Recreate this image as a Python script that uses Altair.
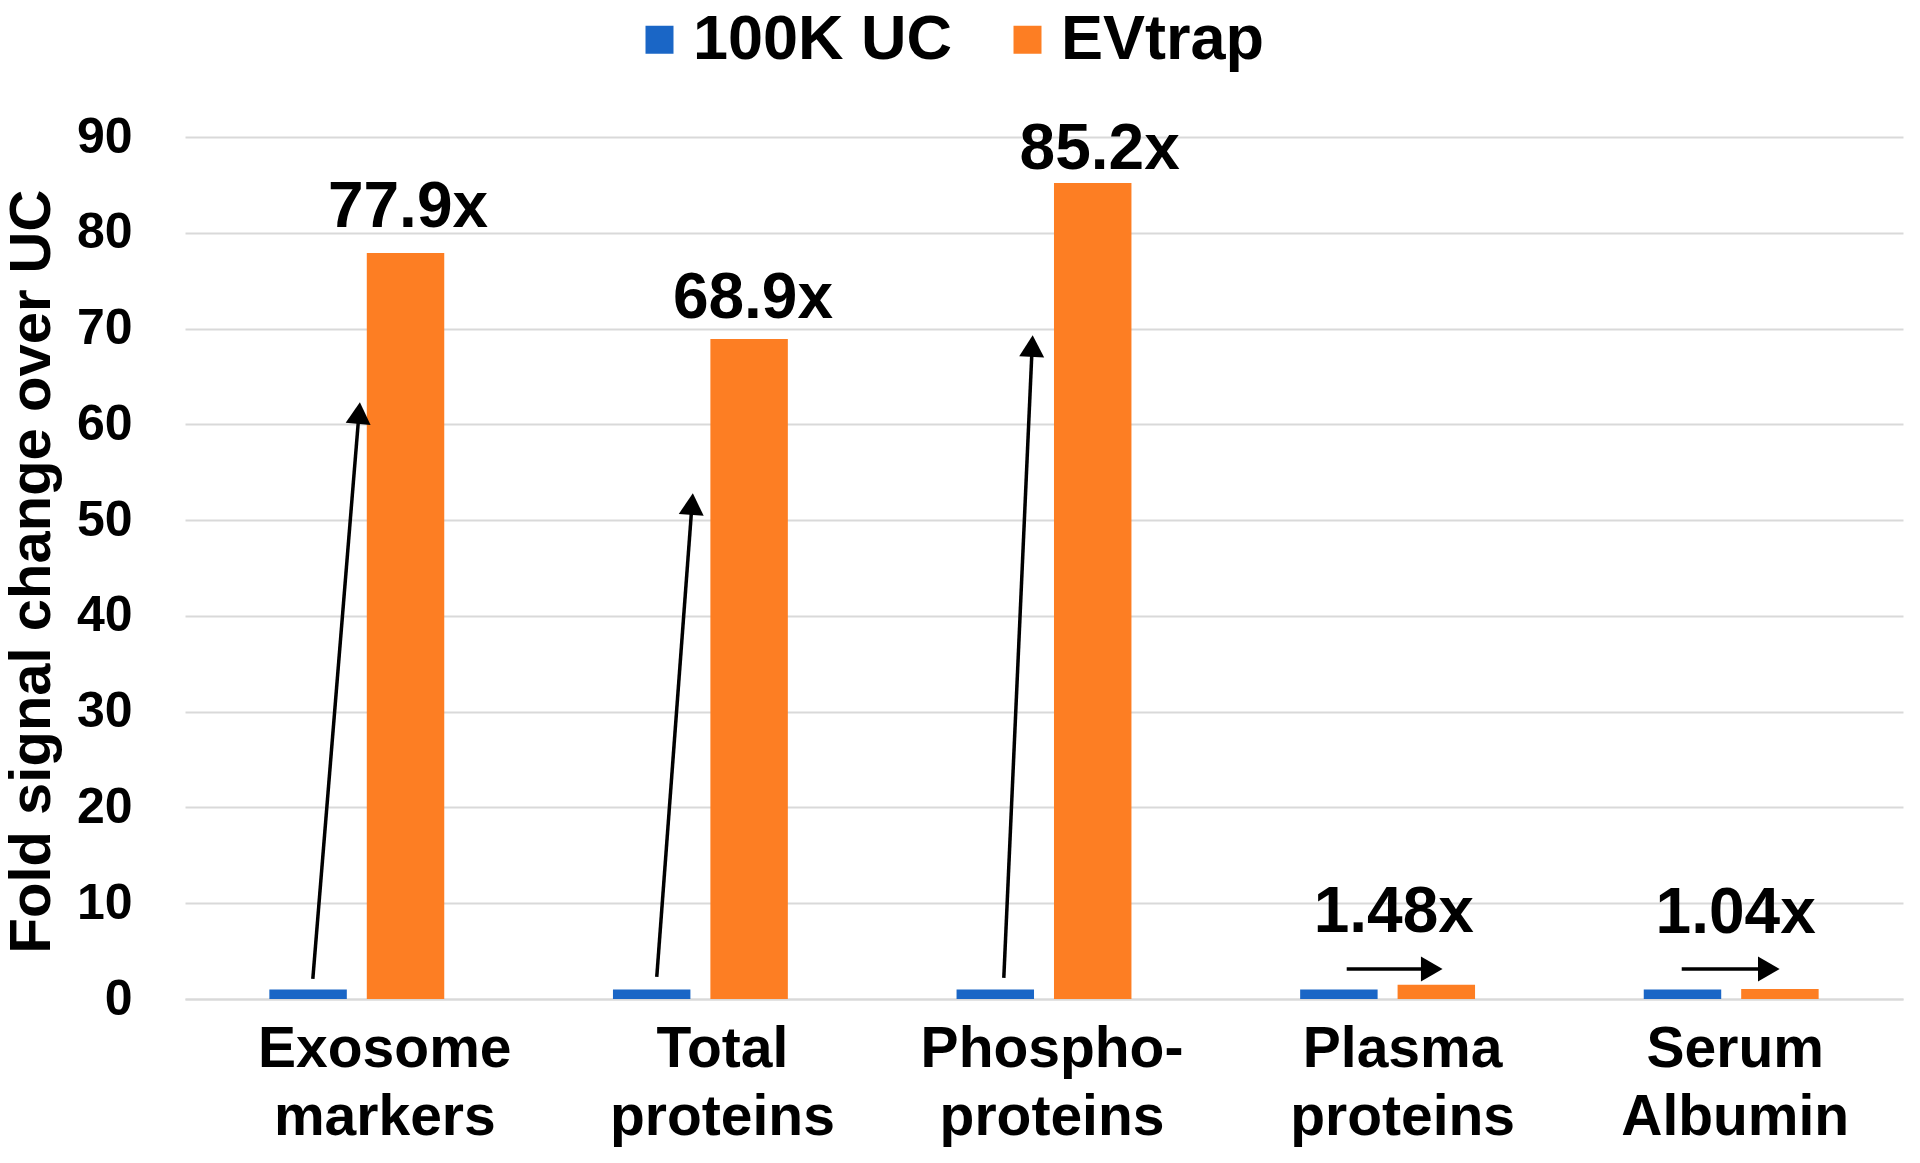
import math
import altair as alt
import pandas as pd

# ---------------- data ----------------
categories = ["Exosome markers", "Total proteins", "Phospho- proteins", "Plasma proteins", "Serum Albumin"]
series = ["100K UC", "EVtrap"]
uc_values = [1, 1, 1, 1, 1]
evtrap_values = [77.9, 68.9, 85.2, 1.48, 1.04]

# fold-change annotations (x in category units 0..5, y = text baseline value)
fold_labels = ["77.9x", "68.9x", "85.2x", "1.48x", "1.04x"]
fold_label_x = [0.649, 1.653, 2.662, 3.518, 4.513]
fold_label_y = [80.6, 71.1, 86.7, 7.0, 6.9]

# arrows (x in category units, y in data units)
arrow_x_start = [0.372, 1.373, 2.383, 3.381, 4.356]
arrow_y_start = [2.1, 2.3, 2.2, 3.13, 3.13]
arrow_x_end = [0.509, 1.478, 2.467, 3.660, 4.641]
arrow_y_end = [62.3, 52.8, 69.3, 3.13, 3.13]

# ---------------- layout ----------------
W, H = 1718, 862
Y_MAX = 90
BLUE = "#1a66c6"
ORANGE = "#fd7e23"
GRID = "#d9d9d9"
FONT = "Liberation Sans"
label_shift = [28, 22, 8, 15, 4]

px_x = W / 5.0
px_y = H / Y_MAX
HEAD = 25  # arrowhead width in px
head_h = math.sqrt(3) * (HEAD / 2) / 2  # half-height of triangle symbol

bars = pd.DataFrame(
    [{"category": c, "series": series[0], "value": v} for c, v in zip(categories, uc_values)]
    + [{"category": c, "series": series[1], "value": v} for c, v in zip(categories, evtrap_values)]
)

rows = []
for xs, ys, xe, ye in zip(arrow_x_start, arrow_y_start, arrow_x_end, arrow_y_end):
    dxp = (xe - xs) * px_x
    dyp = (ye - ys) * px_y
    L = math.hypot(dxp, dyp)
    ux, uy = dxp / L, dyp / L
    cx = xe - head_h * ux / px_x
    cy = ye - head_h * uy / px_y
    ang = math.degrees(math.atan2(dxp, dyp))
    rows.append({"xs": xs, "ys": ys, "xc": cx, "yc": cy, "ang": ang})
arrows = pd.DataFrame(rows)

labels = pd.DataFrame({"text": fold_labels, "lx": fold_label_x, "ly": fold_label_y})

yscale = alt.Scale(domain=[0, Y_MAX], nice=False, zero=True)
qx = alt.Scale(domain=[0, 5], nice=False, zero=False)

Y_TITLE = "Fold  signal change over UC"
y_axis = alt.Axis(
    title=Y_TITLE,
    titleFont=FONT,
    titleFontSize=58,
    titleFontWeight="bold",
    titleColor="black",
    titleX=-136,
    titleY=434,
    titleAngle=270,
    titleAlign="center",
    titleBaseline="alphabetic",
    values=list(range(0, 91, 10)),
    labelFont=FONT,
    labelFontSize=50,
    labelFontWeight="bold",
    labelColor="black",
    labelPadding=53,
    ticks=False,
    domain=False,
    grid=True,
    gridColor=GRID,
    gridWidth=2,
)

offset_cond = {
    "condition": [
        {"test": f"datum.value === '{c}'", "value": o} for c, o in zip(categories, label_shift)
    ],
    "value": 0,
}

bar_layer = alt.Chart(bars).mark_bar().encode(
    x=alt.X(
        "category:N",
        sort=categories,
        scale=alt.Scale(paddingInner=0.491, paddingOuter=0.2455),
        axis=alt.Axis(
            title=None,
            labelAngle=0,
            labelFont=FONT,
            labelFontSize=57,
            labelFontWeight="bold",
            labelColor="black",
            labelExpr="split(datum.label, ' ')",
            labelLineHeight=68,
            labelBaseline="top",
            labelPadding=22,
            labelLimit=600,
            labelOffset=offset_cond,
            ticks=False,
            domainColor=GRID,
            domainWidth=2,
        ),
    ),
    xOffset=alt.XOffset(
        "series:N", sort=series, scale=alt.Scale(paddingInner=0.205, paddingOuter=0)
    ),
    y=alt.Y("value:Q", scale=yscale, axis=y_axis, title=Y_TITLE),
    color=alt.Color(
        "series:N",
        scale=alt.Scale(domain=series, range=[BLUE, ORANGE]),
        legend=alt.Legend(
            title=None,
            orient="none",
            legendX=443,
            legendY=-129,
            direction="horizontal",
            labelFont=FONT,
            labelFontSize=63,
            labelFontWeight="bold",
            labelColor="black",
            symbolType="square",
            symbolSize=784,
            symbolStrokeWidth=0,
            symbolOpacity=1,
            labelOffset=2,
            columnPadding=43,
            labelLimit=600,
            padding=0,
        ),
    ),
)

rule_layer = alt.Chart(arrows).mark_rule(color="black", strokeWidth=3.5).encode(
    x=alt.X("xs:Q", scale=qx, axis=None),
    x2="xc:Q",
    y=alt.Y("ys:Q", scale=yscale, axis=y_axis, title=Y_TITLE),
    y2="yc:Q",
)

head_layer = alt.Chart(arrows).mark_point(
    shape="triangle-up", filled=True, color="black", opacity=1, size=HEAD * HEAD, strokeWidth=0
).encode(
    x=alt.X("xc:Q", scale=qx, axis=None),
    y=alt.Y("yc:Q", scale=yscale, axis=y_axis, title=Y_TITLE),
    angle=alt.Angle("ang:Q", scale=None),
)

text_layer = alt.Chart(labels).mark_text(
    font=FONT, fontSize=64, fontWeight="bold", color="black", align="center", baseline="alphabetic"
).encode(
    x=alt.X("lx:Q", scale=qx, axis=None),
    y=alt.Y("ly:Q", scale=yscale, axis=y_axis, title=Y_TITLE),
    text="text:N",
)

chart = (
    alt.layer(bar_layer, rule_layer, head_layer, text_layer)
    .resolve_scale(x="independent")
    .properties(
        width=W,
        height=H,
        autosize=alt.AutoSizeParams(type="none"),
        padding={"left": 177, "top": 129, "right": 1, "bottom": 150},
        background="white",
    )
    .configure_view(stroke=None)
)

chart.save("out.html", embed_options={"renderer": "svg", "actions": False})
